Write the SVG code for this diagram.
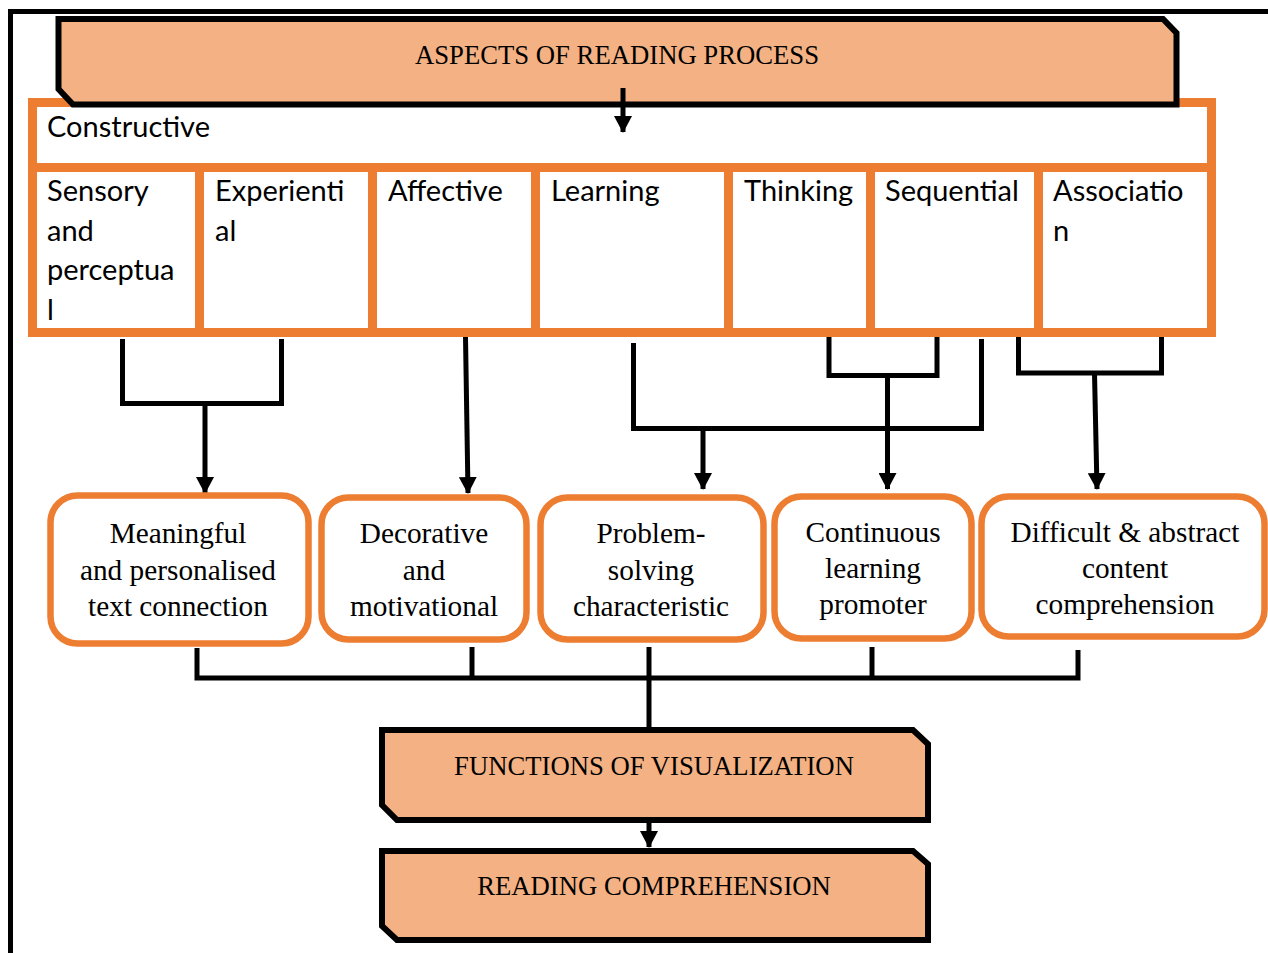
<svg xmlns="http://www.w3.org/2000/svg" width="1268" height="953" viewBox="0 0 1268 953">
<style>
.frame{fill:none;stroke:#000;stroke-width:5}
.hdr{fill:#F4B183;stroke:#000;stroke-width:6;stroke-linejoin:miter}
.hdrt{font-family:"Liberation Serif","Times New Roman",serif;font-size:26.7px;fill:#000;text-anchor:middle}
.tbl{fill:#fff;stroke:#ED7D31;stroke-width:9}
.tl{stroke:#ED7D31;stroke-width:9}
.cell{font-family:Lato,"Open Sans",sans-serif;font-size:29px;fill:#000}
.rb{fill:#fff;stroke:#ED7D31;stroke-width:6.5}
.rbt{font-family:"Liberation Serif","Times New Roman",serif;font-size:29.3px;fill:#000;text-anchor:middle}
.con{fill:none;stroke:#000;stroke-width:5;stroke-linejoin:miter;stroke-linecap:butt}
</style>
<defs>
<marker id="ah" markerUnits="userSpaceOnUse" markerWidth="17" markerHeight="18" refX="16" refY="9" orient="auto">
<path d="M0,0 L17,9 L0,18 z" fill="#000"/>
</marker>
</defs>
<rect width="1268" height="953" fill="#fff"/>
<g id="frame">
<path class="frame" d="M10.5,953 L10.5,11.5 L1268,11.5"/>
</g>
<g id="aspects-table">
<rect class="tbl" x="32.5" y="102.5" width="1179" height="230"/>
<line class="tl" x1="28" y1="167.5" x2="1216" y2="167.5"/>
<line class="tl" x1="199.5" y1="167.5" x2="199.5" y2="332.5"/>
<line class="tl" x1="372.5" y1="167.5" x2="372.5" y2="332.5"/>
<line class="tl" x1="535.5" y1="167.5" x2="535.5" y2="332.5"/>
<line class="tl" x1="728.5" y1="167.5" x2="728.5" y2="332.5"/>
<line class="tl" x1="870.5" y1="167.5" x2="870.5" y2="332.5"/>
<line class="tl" x1="1038.5" y1="167.5" x2="1038.5" y2="332.5"/>
<text class="cell" x="47" y="137">Constructive</text>
<text class="cell" x="47" y="201">Sensory</text>
<text class="cell" x="47" y="240.5">and</text>
<text class="cell" x="47" y="280">perceptua</text>
<text class="cell" x="47" y="319.5">l</text>
<text class="cell" x="215" y="201">Experienti</text>
<text class="cell" x="215" y="240.5">al</text>
<text class="cell" x="388" y="201">Affective</text>
<text class="cell" x="551" y="201">Learning</text>
<text class="cell" x="744" y="201">Thinking</text>
<text class="cell" x="885" y="201">Sequential</text>
<text class="cell" x="1053" y="201">Associatio</text>
<text class="cell" x="1053" y="240.5">n</text>
</g>
<g id="aspects-of-reading-process">
<path class="hdr" d="M58.5,19 L1163,19 L1176.5,33 L1176.5,104.5 L73,104.5 L58.5,89 Z"/>
<text class="hdrt" x="617" y="64">ASPECTS OF READING PROCESS</text>
</g>
<g id="connectors">
<path class="con" d="M623,88 L623,132" marker-end="url(#ah)"/>
<path class="con" d="M122.5,339 L122.5,403.5 L281.5,403.5 L281.5,339"/>
<path class="con" d="M205,403.5 L205,493" marker-end="url(#ah)"/>
<path class="con" d="M465.5,337 L468,493" marker-end="url(#ah)"/>
<path class="con" d="M633.5,343 L633.5,428.5 L981.5,428.5 L981.5,339"/>
<path class="con" d="M703,428.5 L703,489" marker-end="url(#ah)"/>
<path class="con" d="M829,337 L829,375.5 L937,375.5 L937,337"/>
<path class="con" d="M887.5,375.5 L887.5,489" marker-end="url(#ah)"/>
<path class="con" d="M1018.5,337 L1018.5,373 L1161.5,373 L1161.5,337"/>
<path class="con" d="M1094.5,373 L1097,489" marker-end="url(#ah)"/>
<path class="con" d="M197,648 L197,678 L1078,678 L1078,650"/>
<path class="con" d="M472,647 L472,678"/>
<path class="con" d="M872,647 L872,678"/>
<path class="con" d="M649,647 L649,727"/>
<path class="con" d="M649,823 L649,847" marker-end="url(#ah)"/>
</g>
<g id="meaningful">
<rect class="rb" x="50.5" y="495.5" width="258" height="148" rx="27"/>
<text class="rbt" x="178" y="543">Meaningful</text>
<text class="rbt" x="178" y="580">and personalised</text>
<text class="rbt" x="178" y="616">text connection</text>
</g>
<g id="decorative">
<rect class="rb" x="321.5" y="497.5" width="205" height="142" rx="27"/>
<text class="rbt" x="424" y="543">Decorative</text>
<text class="rbt" x="424" y="580">and</text>
<text class="rbt" x="424" y="616">motivational</text>
</g>
<g id="problem-solving">
<rect class="rb" x="540.5" y="497.5" width="223" height="142" rx="27"/>
<text class="rbt" x="651" y="543">Problem-</text>
<text class="rbt" x="651" y="580">solving</text>
<text class="rbt" x="651" y="616">characteristic</text>
</g>
<g id="continuous">
<rect class="rb" x="774.5" y="496.5" width="197" height="142" rx="27"/>
<text class="rbt" x="873" y="542">Continuous</text>
<text class="rbt" x="873" y="578">learning</text>
<text class="rbt" x="873" y="614">promoter</text>
</g>
<g id="difficult">
<rect class="rb" x="981.5" y="496.5" width="283" height="140" rx="27"/>
<text class="rbt" x="1125" y="542">Difficult &amp; abstract</text>
<text class="rbt" x="1125" y="578">content</text>
<text class="rbt" x="1125" y="614">comprehension</text>
</g>
<g id="functions-of-visualization">
<path class="hdr" d="M382,730 L913,730 L928,744 L928,820 L397,820 L382,805 Z"/>
<text class="hdrt" x="654" y="775">FUNCTIONS OF VISUALIZATION</text>
</g>
<g id="reading-comprehension">
<path class="hdr" d="M382,851 L913,851 L928,864 L928,940 L397,940 L382,926 Z"/>
<text class="hdrt" x="654" y="895">READING COMPREHENSION</text>
</g>
</svg>
